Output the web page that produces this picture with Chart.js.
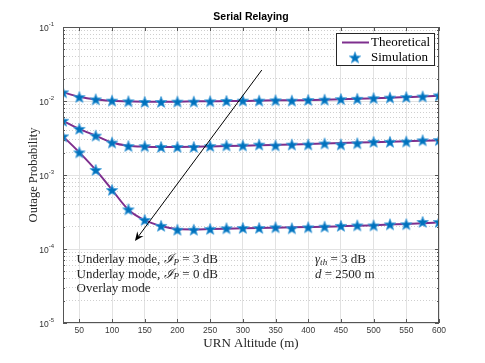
<!DOCTYPE html>
<html>
<head>
<meta charset="UTF-8">
<title>Serial Relaying</title>
<script src="https://cdn.jsdelivr.net/npm/chart.js@4.4.0/dist/chart.umd.min.js"></script>
<style>
    html, body { margin: 0; padding: 0; background: #fff; }
    #chart { display: block; }
</style>
</head>
<body>
<canvas id="chart" width="485" height="363"></canvas>
<script>
// URN altitude (m)
var altitude = [25, 50, 75, 100, 125, 150, 175, 200, 225, 250, 275, 300,
                325, 350, 375, 400, 425, 450, 475, 500, 525, 550, 575, 600];
var xTicks = [50, 100, 150, 200, 250, 300, 350, 400, 450, 500, 550, 600];
var yDecades = [1e-5, 1e-4, 1e-3, 1e-2, 1e-1];
var yExponents = ['-5', '-4', '-3', '-2', '-1'];

// top curve
var theoTop = [0.0131, 0.0114, 0.0105, 0.0101, 0.0099, 0.0098, 0.0098, 0.0098, 0.0099, 0.0099, 0.0100, 0.0100,
               0.0101, 0.0102, 0.0102, 0.0103, 0.0104, 0.0106, 0.0107, 0.0109, 0.0111, 0.0113, 0.0115, 0.0118];
var simTop  = [0.0131, 0.0113, 0.0105, 0.0101, 0.0099, 0.0097, 0.0097, 0.0098, 0.0098, 0.0099, 0.0100, 0.0101,
               0.0101, 0.0102, 0.0101, 0.0103, 0.0104, 0.0106, 0.0107, 0.0109, 0.0111, 0.0113, 0.0115, 0.0119];
// middle curve
var theoMid = [0.0054, 0.0042, 0.0034, 0.00275, 0.00248, 0.00241, 0.00239, 0.00239, 0.0024, 0.00243, 0.00246, 0.00249,
               0.00252, 0.00255, 0.00258, 0.00262, 0.00266, 0.0027, 0.00274, 0.00278, 0.00282, 0.00286, 0.0029, 0.00295];
var simMid  = [0.0054, 0.0042, 0.0034, 0.00274, 0.00246, 0.00245, 0.00239, 0.00239, 0.00239, 0.00246, 0.0025, 0.0025,
               0.00257, 0.0025, 0.00257, 0.00258, 0.00266, 0.00258, 0.00268, 0.0028, 0.0028, 0.00283, 0.00294, 0.00296];
// bottom curve
var theoLow = [0.00333, 0.00202, 0.00117, 0.00063, 0.00034, 0.000245, 0.000204, 0.000186, 0.000184, 0.000186, 0.000188, 0.00019,
               0.000192, 0.000194, 0.000196, 0.000198, 0.0002, 0.000203, 0.000206, 0.00021, 0.000214, 0.000218, 0.000223, 0.000229];
var simLow  = [0.00333, 0.00202, 0.00117, 0.000627, 0.000343, 0.000247, 0.000205, 0.000182, 0.000182, 0.000186, 0.00019, 0.000192,
               0.000192, 0.000196, 0.00019, 0.000196, 0.0002, 0.000205, 0.000208, 0.000208, 0.000215, 0.000216, 0.000232, 0.000232];

var legendLabels = ['Theoretical', 'Simulation'];
var arrowFrom = [329, 0.0262];
var arrowTo = [135, 0.000128];

var purple = '#7E2F8E';
var blue = '#0072BD';
var serif = '"Liberation Serif", "DejaVu Serif", serif';
var sans = '"Liberation Sans", Arial, sans-serif';

function makeStar(r) {
    var s = Math.ceil(r * 2 + 2);
    var c = document.createElement('canvas');
    c.width = s; c.height = s;
    var g = c.getContext('2d');
    g.beginPath();
    for (var i = 0; i < 10; i++) {
        var a = -Math.PI / 2 + i * Math.PI / 5;
        var rr = (i % 2) ? r * 0.42 : r;
        g.lineTo(s / 2 + rr * Math.cos(a), s / 2 + rr * Math.sin(a) + r * 0.08);
    }
    g.closePath();
    g.fillStyle = blue;
    g.fill();
    g.strokeStyle = '#3d9ad8';
    g.lineWidth = 0.8;
    g.stroke();
    return c;
}
var star = makeStar(6);

function isMajor(v) {
    var l = Math.log10(v);
    return Math.abs(l - Math.round(l)) < 1e-9;
}

function pts(ys) {
    return altitude.map(function (x, i) { return {x: x, y: ys[i]}; });
}

function lineSet(ys) {
    return {data: pts(ys), borderColor: purple, backgroundColor: purple, borderWidth: 2,
            pointRadius: 0, cubicInterpolationMode: 'monotone', order: 2};
}
function starSet(ys) {
    return {data: pts(ys), showLine: false, pointStyle: star, pointRadius: 6,
            borderColor: blue, backgroundColor: blue, order: 1};
}

// draw text made of pieces: {t, it, sub}
function drawRich(ctx, x, y, segs, size) {
    segs.forEach(function (s) {
        var fs = s.sub ? size * 0.7 : size;
        ctx.font = (s.it ? 'italic ' : '') + fs + 'px ' + serif;
        ctx.fillText(s.t, x, s.sub ? y + size * 0.2 : y);
        x += ctx.measureText(s.t).width;
    });
}

var decorations = {
    id: 'decorations',
    afterDatasetsDraw: function (chart) {
        var ctx = chart.ctx, a = chart.chartArea;
        var xs = chart.scales.x, ys = chart.scales.y;
        ctx.save();
        // box + inward ticks
        ctx.strokeStyle = '#555';
        ctx.lineWidth = 1;
        ctx.strokeRect(a.left + 0.5, a.top + 0.5, a.right - a.left - 1, a.bottom - a.top - 1);
        ctx.beginPath();
        xs.ticks.forEach(function (t) {
            var px = Math.round(xs.getPixelForValue(t.value)) + 0.5;
            ctx.moveTo(px, a.bottom); ctx.lineTo(px, a.bottom - 4);
            ctx.moveTo(px, a.top); ctx.lineTo(px, a.top + 4);
        });
        ys.ticks.forEach(function (t) {
            var py = Math.round(ys.getPixelForValue(t.value)) + 0.5;
            var len = isMajor(t.value) ? 4 : 2;
            ctx.moveTo(a.left, py); ctx.lineTo(a.left + len, py);
            ctx.moveTo(a.right, py); ctx.lineTo(a.right - len, py);
        });
        ctx.stroke();

        // arrow
        var x1 = xs.getPixelForValue(arrowFrom[0]), y1 = ys.getPixelForValue(arrowFrom[1]);
        var x2 = xs.getPixelForValue(arrowTo[0]), y2 = ys.getPixelForValue(arrowTo[1]);
        var ang = Math.atan2(y2 - y1, x2 - x1);
        ctx.strokeStyle = '#000';
        ctx.fillStyle = '#000';
        ctx.beginPath();
        ctx.moveTo(x1, y1);
        ctx.lineTo(x2 - 6 * Math.cos(ang), y2 - 6 * Math.sin(ang));
        ctx.stroke();
        ctx.beginPath();
        ctx.moveTo(x2, y2);
        ctx.lineTo(x2 - 10 * Math.cos(ang - 0.4), y2 - 10 * Math.sin(ang - 0.4));
        ctx.lineTo(x2 - 6 * Math.cos(ang), y2 - 6 * Math.sin(ang));
        ctx.lineTo(x2 - 10 * Math.cos(ang + 0.4), y2 - 10 * Math.sin(ang + 0.4));
        ctx.closePath();
        ctx.fill();

        // y tick labels 10^n
        ctx.fillStyle = '#333';
        ctx.textBaseline = 'middle';
        yDecades.forEach(function (v, i) {
            var py = ys.getPixelForValue(v);
            ctx.font = '6px ' + sans;
            var ew = ctx.measureText(yExponents[i]).width;
            var ex = a.left - 9 - ew;
            ctx.textAlign = 'left';
            ctx.fillText(yExponents[i], ex, py - 3);
            ctx.font = '8.5px ' + sans;
            ctx.textAlign = 'right';
            ctx.fillText('10', ex, py + 1.5);
        });

        // legend
        var lx = 336, ly = 33, lw = 98, lh = 32;
        ctx.fillStyle = '#fff';
        ctx.fillRect(lx, ly, lw, lh);
        ctx.strokeStyle = '#262626';
        ctx.lineWidth = 1;
        ctx.strokeRect(lx + 0.5, ly + 0.5, lw, lh);
        ctx.strokeStyle = purple;
        ctx.lineWidth = 2;
        ctx.beginPath();
        ctx.moveTo(lx + 6, ly + 9.5); ctx.lineTo(lx + 33, ly + 9.5);
        ctx.stroke();
        ctx.drawImage(star, lx + 19 - star.width / 2, ly + 24.5 - star.height / 2);
        ctx.fillStyle = '#000';
        ctx.textAlign = 'left';
        ctx.font = '13px ' + serif;
        ctx.fillText(legendLabels[0], lx + 35, ly + 9.5);
        ctx.fillText(legendLabels[1], lx + 35, ly + 24.5);

        // annotations
        ctx.fillStyle = '#262626';
        var tx = a.left + 13.5, ty = 260;
        drawRich(ctx, tx, ty, [{t: 'Underlay mode, '}, {t: '\u2110', it: true}, {t: 'P', it: true, sub: true}, {t: ' = 3 dB'}], 13);
        drawRich(ctx, tx, ty + 14.3, [{t: 'Underlay mode, '}, {t: '\u2110', it: true}, {t: 'P', it: true, sub: true}, {t: ' = 0 dB'}], 13);
        drawRich(ctx, tx, ty + 28.5, [{t: 'Overlay mode'}], 13);
        drawRich(ctx, 315, ty, [{t: '\u03B3', it: true}, {t: 'th', it: true, sub: true}, {t: ' = 3 dB'}], 13);
        drawRich(ctx, 315, ty + 14.3, [{t: 'd', it: true}, {t: ' = 2500 m'}], 13);
        ctx.restore();
    }
};

var ctx = document.getElementById('chart').getContext('2d');
var chart = new Chart(ctx, {
    type: 'line',
    data: {
        datasets: [
            lineSet(theoTop), lineSet(theoMid), lineSet(theoLow),
            starSet(simTop), starSet(simMid), starSet(simLow)
        ]
    },
    options: {
        responsive: false,
        animation: false,
        layout: {padding: {left: 0, right: 46, top: 0, bottom: 0}},
        plugins: {
            legend: {display: false},
            tooltip: {enabled: false},
            title: {
                display: true,
                text: 'Serial Relaying',
                fullSize: false,
                color: '#000',
                font: {family: sans, size: 10.5, weight: 'bold'},
                padding: {top: 11, bottom: 3.4}
            }
        },
        scales: {
            x: {
                type: 'linear',
                min: 25,
                max: 600,
                afterBuildTicks: function (s) {
                    s.ticks = xTicks.map(function (v) { return {value: v}; });
                },
                afterFit: function (s) { s.height = 40; },
                grid: {color: '#e2e2e2', lineWidth: 1, drawTicks: false},
                border: {display: false},
                ticks: {
                    color: '#3a3a3a',
                    font: {family: sans, size: 8.5},
                    padding: 3,
                    maxRotation: 0,
                    autoSkip: false
                },
                title: {
                    display: true,
                    text: 'URN Altitude (m)',
                    color: '#262626',
                    font: {family: serif, size: 13},
                    padding: {top: 0, bottom: 12}
                }
            },
            y: {
                type: 'logarithmic',
                min: 1e-5,
                max: 1e-1,
                afterBuildTicks: function (s) {
                    var t = [];
                    for (var d = 0; d < yDecades.length - 1; d++) {
                        for (var k = 1; k < 10; k++) t.push({value: k * yDecades[d]});
                    }
                    t.push({value: yDecades[yDecades.length - 1]});
                    s.ticks = t;
                },
                afterFit: function (s) { s.width = 63; },
                grid: {
                    color: function (c) { return c.tick && isMajor(c.tick.value) ? '#e2e2e2' : '#cfcfcf'; },
                    lineWidth: 1,
                    drawTicks: false
                },
                border: {
                    display: false,
                    dash: function (c) { return c.tick && !isMajor(c.tick.value) ? [1, 2] : []; }
                },
                ticks: {display: false},
                title: {
                    display: true,
                    text: 'Outage Probability',
                    color: '#262626',
                    font: {family: serif, size: 12.5},
                    padding: {top: 26, bottom: 0}
                }
            }
        }
    },
    plugins: [decorations]
});
</script>
</body>
</html>
